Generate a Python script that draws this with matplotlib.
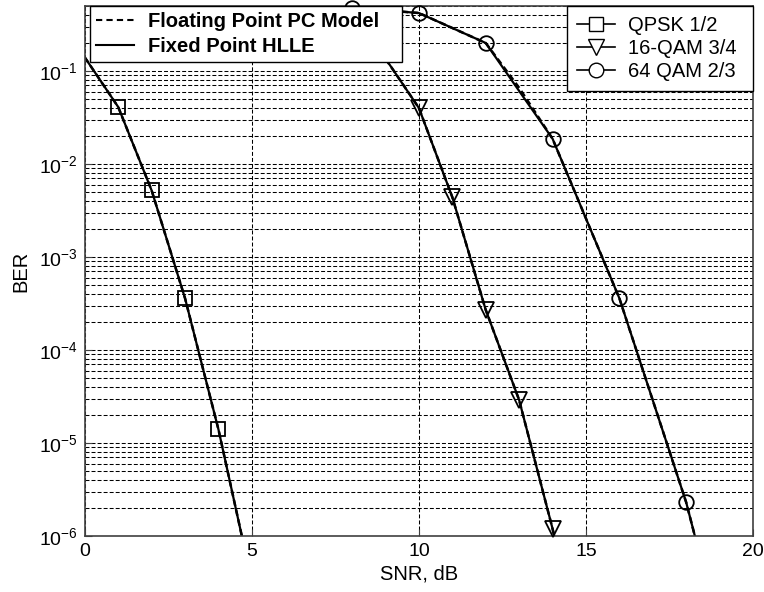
import matplotlib
matplotlib.use("Agg")
import matplotlib.pyplot as plt
from matplotlib.lines import Line2D
from matplotlib.ticker import FuncFormatter
import numpy as np

plt.rcParams["font.family"] = ["Liberation Sans", "DejaVu Sans"]
plt.rcParams["mathtext.fontset"] = "custom"
plt.rcParams["mathtext.rm"] = "Liberation Sans"
plt.rcParams["mathtext.it"] = "Liberation Sans"

# BER curves (SNR in dB)
qpsk_snr = [0.0, 1.0, 2.0, 3.0, 4.0, 4.7]
qpsk_float = [0.14, 0.041, 0.0052, 3.6e-4, 1.4e-5, 1.0e-6]
qpsk_fixed = [0.14, 0.041, 0.0052, 3.6e-4, 1.4e-5, 1.0e-6]

qam16_snr = [8.3, 9.13, 10.0, 11.0, 12.0, 13.0, 14.0, 14.05]
qam16_float = [0.3, 0.116, 0.04, 4.4e-3, 2.7e-4, 2.9e-5, 1.2e-6, 1.0e-6]
qam16_fixed = [0.3, 0.116, 0.04, 4.4e-3, 2.7e-4, 2.9e-5, 1.2e-6, 1.0e-6]

qam64_snr = [8.0, 10.0, 12.0, 13.0, 14.0, 16.0, 18.0, 18.26]
qam64_float = [0.48, 0.42, 0.2, 0.066, 0.0187, 3.6e-4, 2.3e-6, 1.0e-6]
qam64_fixed = [0.48, 0.42, 0.2, 0.061, 0.0187, 3.6e-4, 2.3e-6, 1.0e-6]

# marker points
qpsk_mk_snr = [1, 2, 3, 4]
qpsk_mk_ber = [0.041, 0.0052, 3.6e-4, 1.4e-5]
qam16_mk_snr = [10, 11, 12, 13, 14]
qam16_mk_ber = [0.04, 4.4e-3, 2.7e-4, 2.9e-5, 1.2e-6]
qam64_mk_snr = [8, 10, 12, 14, 16, 18]
qam64_mk_ber = [0.48, 0.42, 0.2, 0.0187, 3.6e-4, 2.3e-6]

fig = plt.figure(figsize=(7.64, 5.92), dpi=100)
ax = fig.add_axes([0.111, 0.0946, 0.8746, 0.8953])

for snr, flt, fix in [(qpsk_snr, qpsk_float, qpsk_fixed),
                      (qam16_snr, qam16_float, qam16_fixed),
                      (qam64_snr, qam64_float, qam64_fixed)]:
    ax.semilogy(snr, flt, color="black", lw=1.8, ls=(0, (2.5, 1.5)))
    ax.semilogy(snr, fix, color="black", lw=1.6, ls="-")

mk = dict(color="black", lw=0, markerfacecolor="none", markeredgecolor="black",
          markeredgewidth=1.3, clip_on=False, zorder=3)
ax.semilogy(qpsk_mk_snr, qpsk_mk_ber, marker="s", markersize=10, **mk)
ax.semilogy(qam16_mk_snr, qam16_mk_ber, marker="v", markersize=11.5, **mk)
ax.semilogy(qam64_mk_snr, qam64_mk_ber, marker="o", markersize=10.5, **mk)

ax.set_xlim(0, 20)
ax.set_ylim(1e-6, 0.5)
ax.set_xticks([0, 5, 10, 15, 20])
ax.yaxis.set_major_formatter(FuncFormatter(
    lambda v, p: r"$\mathregular{10^{%d}}$" % int(round(np.log10(v)))))
ax.grid(True, which="major", axis="x", color="black", lw=0.75, ls=(0, (3.8, 2.0)))
ax.grid(True, which="both", axis="y", color="black", lw=0.75, ls=(0, (3.8, 2.0)))
ax.tick_params(axis="both", which="major", labelsize=14, direction="in", length=5,
               colors="#404040", labelcolor="black", pad=5)
ax.tick_params(axis="y", which="minor", length=0)
for sp in ax.spines.values():
    sp.set_color("#404040")
    sp.set_linewidth(1.2)

ax.set_xlabel("SNR, dB", fontsize=14.5, labelpad=3)
ax.set_ylabel("BER", fontsize=14.5, labelpad=6)

# legend 1: line style meaning
h1 = [Line2D([0], [0], color="black", lw=1.5, ls=(0, (3, 2))),
      Line2D([0], [0], color="black", lw=1.5, ls="-")]
leg1 = ax.legend(h1, ["Floating Point PC Model", "Fixed Point HLLE"], loc="upper left",
                 bbox_to_anchor=(0.0075, 0.8, 0.467, 0.2), mode="expand",
                 prop={"size": 14.5, "weight": "bold"},
                 frameon=True, fancybox=False, edgecolor="black", framealpha=1,
                 handlelength=1.9, borderpad=0.3, labelspacing=0.3, handletextpad=0.7,
                 borderaxespad=0)
leg1.get_frame().set_linewidth(1.0)
leg1.set_zorder(5)
ax.add_artist(leg1)

# legend 2: modulation markers
h2 = [Line2D([0], [0], color="black", lw=1.2, marker=m, markersize=ms,
             markerfacecolor="white", markeredgecolor="black")
      for m, ms in [("s", 10), ("v", 11), ("o", 10.5)]]
leg2 = ax.legend(h2, ["QPSK 1/2", "16-QAM 3/4", "64 QAM 2/3"], loc="upper right",
                 bbox_to_anchor=(0.7216, 0.8, 0.2784, 0.2), mode="expand",
                 fontsize=14.5, frameon=True, fancybox=False, edgecolor="black",
                 framealpha=1, handlelength=1.9, borderpad=0.5, labelspacing=0.2,
                 handletextpad=0.65, borderaxespad=0)
leg2.get_frame().set_linewidth(1.0)
leg2.set_zorder(5)

fig.savefig("out.png", dpi=100)
